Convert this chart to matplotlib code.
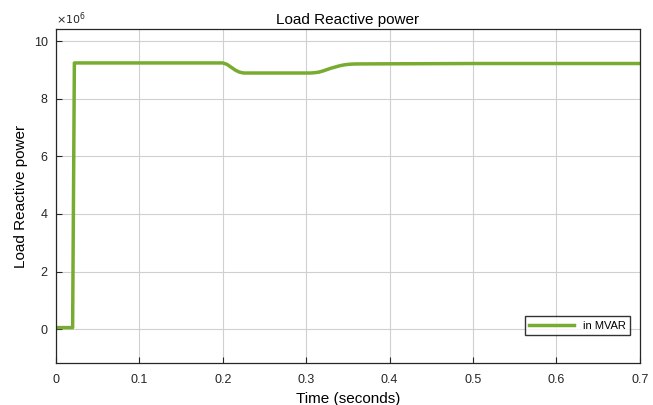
import matplotlib.pyplot as plt
from matplotlib.ticker import FuncFormatter

# Load reactive power
time_s = [0.0, 0.0199, 0.022, 0.2, 0.205, 0.21, 0.215, 0.22, 0.225, 0.3, 0.305, 0.31,
          0.315, 0.32, 0.325, 0.33, 0.335, 0.34, 0.345, 0.35, 0.355, 0.36, 0.4, 0.5, 0.6, 0.7]
q_var = [0.05e6, 0.05e6, 9.25e6, 9.25e6, 9.2e6, 9.1e6, 9.0e6, 8.93e6, 8.9e6, 8.9e6, 8.9e6, 8.91e6,
         8.93e6, 8.97e6, 9.02e6, 9.07e6, 9.11e6, 9.15e6, 9.18e6, 9.2e6, 9.21e6, 9.215e6,
         9.22e6, 9.23e6, 9.23e6, 9.23e6]

x_ticks = [0, 0.1, 0.2, 0.3, 0.4, 0.5, 0.6, 0.7]
y_ticks = [0, 2e6, 4e6, 6e6, 8e6, 10e6]

plt.rcParams['font.family'] = ['Liberation Sans', 'DejaVu Sans']

fig = plt.figure(figsize=(6.53, 4.05), dpi=100)
ax = fig.add_axes([0.0858, 0.1037, 0.894, 0.824])

ax.plot(time_s, q_var, color='#77AC30', linewidth=2.5, label='in MVAR')

ax.set_xlim(0, 0.7)
ax.set_ylim(-1.18e6, 10.42e6)
ax.set_xticks(x_ticks)
ax.set_yticks(y_ticks)
ax.set_xticklabels(['0', '0.1', '0.2', '0.3', '0.4', '0.5', '0.6', '0.7'])
ax.yaxis.set_major_formatter(FuncFormatter(lambda v, p: '%g' % (v / 1e6)))
ax.text(0.0, 1.008, r'$\times10^6$', transform=ax.transAxes, fontsize=8,
        color='#262626', ha='left', va='bottom')

ax.grid(True, color='#d0d0d0', linewidth=0.8)
ax.tick_params(direction='in', labelsize=9, colors='#262626', length=4)
ax.tick_params(axis='x', pad=8)
ax.tick_params(axis='y', pad=6)
for s in ax.spines.values():
    s.set_color('#262626')
    s.set_linewidth(0.9)

ax.set_title('Load Reactive power', fontsize=11, pad=4)
ax.set_xlabel('Time (seconds)', fontsize=11, labelpad=4)
ax.set_ylabel('Load Reactive power', fontsize=11, labelpad=4)

leg = ax.legend(loc='lower right', bbox_to_anchor=(0.983, 0.084), fontsize=8,
                frameon=True, fancybox=False, edgecolor='black', borderaxespad=0,
                handlelength=4, borderpad=0.4)
leg.get_frame().set_linewidth(1.0)

fig.savefig('out.png', dpi=100)
